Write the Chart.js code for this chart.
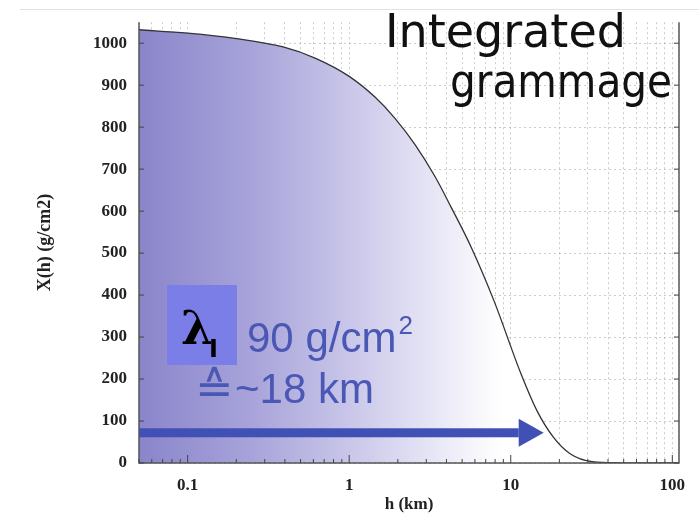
<!DOCTYPE html>
<html>
<head>
<meta charset="utf-8">
<script src="https://cdn.jsdelivr.net/npm/chart.js@4/dist/chart.umd.min.js"></script>
<style>
  body { margin: 0; background: #fff; }
  #wrap { width: 699px; height: 515px; }
</style>
</head>
<body>
<div id="wrap"><canvas id="grammage-chart" width="699" height="515"></canvas></div>
<script>
// altitude (km) vs integrated atmospheric depth (g/cm2)
const heightsKm = [0.05, 0.1, 0.2, 0.39, 0.62, 1.0, 1.45, 1.92, 2.55, 3.39, 4.28, 5.69, 7.9, 11.5, 14.6, 18.4, 23.3, 32, 47, 110];
const grammage  = [1032, 1024, 1011, 991, 964, 921, 871, 821, 759, 683, 609, 514, 385, 215, 123, 61, 22, 3, 0.5, 0];

const xTickValues = [0.05, 0.06, 0.07, 0.08, 0.09, 0.1, 0.2, 0.3, 0.4, 0.5, 0.6, 0.7, 0.8, 0.9,
                     1, 2, 3, 4, 5, 6, 7, 8, 9, 10, 20, 30, 40, 50, 60, 70, 80, 90, 100];
const xLabelValues = [0.1, 1, 10, 100];
const yTickValues = [0, 100, 200, 300, 400, 500, 600, 700, 800, 900, 1000];

// interaction length arrow: depth level and km range
const arrowDepth = 72;
const arrowStartKm = 0.05;
const arrowHeadKm = 11.2;
const arrowTipKm = 16;

const textBlue = '#4a57b5';
const arrowBlue = '#4150b5';

function fillGradient(context) {
    const area = context.chart.chartArea;
    if (!area) return '#b0acdf';
    const g = context.chart.ctx.createLinearGradient(area.left, 0, area.right, 0);
    g.addColorStop(0, '#8a85ca');
    g.addColorStop(0.2, '#a6a2d9');
    g.addColorStop(0.4, '#cbc8ea');
    g.addColorStop(0.55, '#e8e7f6');
    g.addColorStop(0.67, '#ffffff');
    g.addColorStop(1, '#ffffff');
    return g;
}

const framePlugin = {
    id: 'frame',
    beforeDraw(chart) {
        const c = chart.ctx;
        c.save();
        c.strokeStyle = '#e2e2e2';
        c.lineWidth = 1;
        c.beginPath();
        c.moveTo(20, 9.5);
        c.lineTo(699, 9.5);
        c.stroke();
        c.restore();
    },
    afterDatasetsDraw(chart) {
        const c = chart.ctx;
        const a = chart.chartArea;
        const xs = chart.scales.x, ys = chart.scales.y;
        c.save();

        // arrow
        const y = ys.getPixelForValue(arrowDepth);
        const x0 = xs.getPixelForValue(arrowStartKm);
        const xh = xs.getPixelForValue(arrowHeadKm);
        const xt = xs.getPixelForValue(arrowTipKm);
        c.fillStyle = arrowBlue;
        c.fillRect(x0, y - 4.5, xh - x0, 9);
        c.beginPath();
        c.moveTo(xh, y - 14);
        c.lineTo(xt, y);
        c.lineTo(xh, y + 14);
        c.closePath();
        c.fill();

        // frame
        c.strokeStyle = '#555';
        c.lineWidth = 1.5;
        c.beginPath();
        c.moveTo(a.left, a.top);
        c.lineTo(a.left, a.bottom);
        c.lineTo(a.right, a.bottom);
        c.lineTo(a.right, a.top);
        c.stroke();

        // inward tick marks
        c.lineWidth = 1;
        c.strokeStyle = '#444';
        c.beginPath();
        yTickValues.forEach(v => {
            const py = ys.getPixelForValue(v);
            c.moveTo(a.left, py); c.lineTo(a.left + 5, py);
            c.moveTo(a.right, py); c.lineTo(a.right - 5, py);
        });
        xTickValues.forEach(v => {
            const px = xs.getPixelForValue(v);
            const len = xLabelValues.includes(v) ? 8 : 4;
            c.moveTo(px, a.bottom); c.lineTo(px, a.bottom - len);
        });
        c.stroke();

        // title text
        c.fillStyle = '#111';
        c.textBaseline = 'alphabetic';
        c.font = '46px "DejaVu Sans"';
        c.fillText('Integrated', 385, 47, 242);
        c.fillText('grammage', 450, 97, 222);

        // lambda box
        c.fillStyle = '#7a7ee6';
        c.fillRect(167, 285, 70, 80);
        c.fillStyle = '#000';
        c.font = 'bold 46px "DejaVu Serif"';
        c.fillText('\u03bb', 181, 344);
        c.font = 'bold 24px "DejaVu Sans"';
        c.fillText('I', 209, 357);

        c.fillStyle = textBlue;
        c.font = '42px "Liberation Sans"';
        c.fillText('90 g/cm', 247, 352);
        const w = c.measureText('90 g/cm').width;
        c.font = '26px "Liberation Sans"';
        c.fillText('2', 247 + w + 2, 334);

        c.font = '46px "DejaVu Sans"';
        c.fillText('\u2259', 195, 404);
        c.font = '42px "Liberation Sans"';
        c.fillText('~18 km', 235, 403);
        c.restore();
    }
};

const ctx = document.getElementById('grammage-chart').getContext('2d');
new Chart(ctx, {
    type: 'line',
    data: {
        datasets: [{
            data: heightsKm.map((h, i) => ({ x: h, y: grammage[i] })),
            borderColor: '#333',
            borderWidth: 1.3,
            pointRadius: 0,
            cubicInterpolationMode: 'monotone',
            fill: 'origin',
            backgroundColor: fillGradient
        }]
    },
    options: {
        responsive: false,
        animation: false,
        layout: { padding: { left: 0, right: 20, top: 10, bottom: 0 } },
        plugins: { legend: { display: false }, tooltip: { enabled: false } },
        scales: {
            x: {
                type: 'logarithmic',
                min: 0.05,
                max: 110,
                afterFit: s => { s.height = 52; },
                afterBuildTicks: s => { s.ticks = xTickValues.map(v => ({ value: v })); },
                grid: { color: 'rgba(110,110,110,0.35)', drawTicks: false },
                border: { display: false, dash: [2, 3] },
                ticks: {
                    autoSkip: false,
                    maxRotation: 0,
                    padding: 12,
                    color: '#222',
                    font: { family: 'Liberation Serif', size: 17, weight: 'bold' },
                    callback: v => xLabelValues.includes(v) ? String(v) : ''
                },
                title: {
                    display: true,
                    text: 'h (km)',
                    color: '#222',
                    font: { family: 'Liberation Serif', size: 17, weight: 'bold' },
                    padding: { top: 2, bottom: 0 }
                }
            },
            y: {
                min: 0,
                max: 1050,
                afterFit: s => { s.width = 139; },
                afterBuildTicks: s => { s.ticks = yTickValues.map(v => ({ value: v })); },
                grid: { color: 'rgba(110,110,110,0.35)', drawTicks: false },
                border: { display: false, dash: [2, 3] },
                ticks: {
                    padding: 12,
                    color: '#222',
                    font: { family: 'Liberation Serif', size: 17, weight: 'bold' },
                    callback: v => String(v)
                },
                title: {
                    display: true,
                    text: 'X(h) (g/cm2)',
                    color: '#222',
                    font: { family: 'Liberation Serif', size: 18, weight: 'bold' },
                    padding: { top: 35, bottom: 0 }
                }
            }
        }
    },
    plugins: [framePlugin]
});
</script>
</body>
</html>
